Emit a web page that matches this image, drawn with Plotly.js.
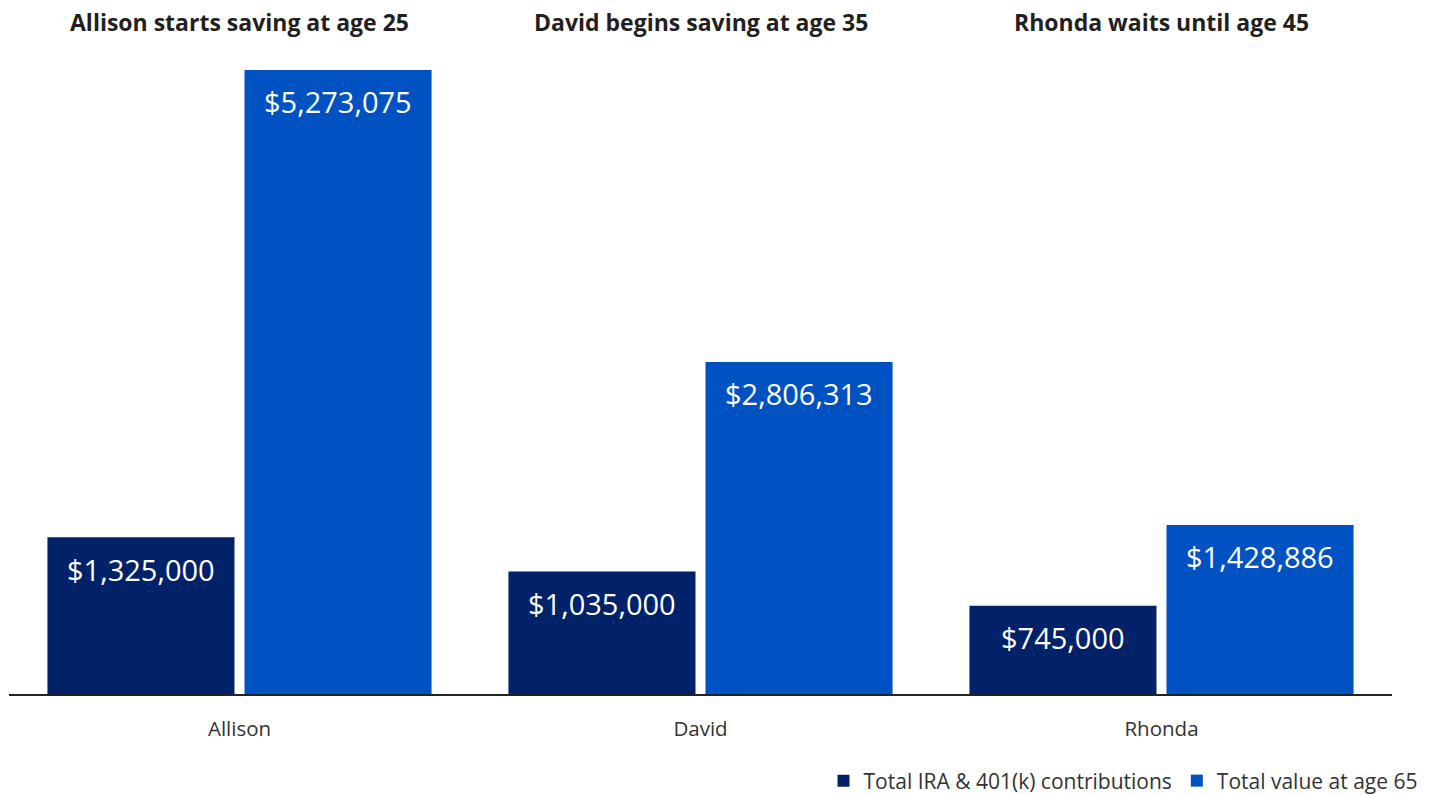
<!DOCTYPE html>
<html>
<head>
<meta charset="utf-8">
<script src="https://cdn.plot.ly/plotly-3.0.1.min.js"></script>
<style>html,body{margin:0;padding:0;background:#fff;}#chart{width:1434px;height:794px;}</style>
</head>
<body>
<div id="chart"></div>
<script>
const categories = ["Allison", "David", "Rhonda"];
const groupTitles = ["Allison starts saving at age 25", "David begins saving at age 35", "Rhonda waits until age 45"];
const seriesNames = ["Total IRA & 401(k) contributions", "Total value at age 65"];
const contributions = [1325000, 1035000, 745000];
const totalValues = [5273075, 2806313, 1428886];
const colors = ["#012169", "#0052C2"];

const fmt = v => "$" + v.toLocaleString("en-US");
const FONT = "Open Sans, sans-serif";

const traces = [contributions, totalValues].map((vals, i) => ({
  type: "bar",
  name: seriesNames[i],
  x: categories,
  y: vals,
  marker: {color: colors[i]},
  hoverinfo: "none"
}));

const offsets = [-0.2137, 0.2137];
const annotations = [];
[contributions, totalValues].forEach((vals, i) => {
  vals.forEach((v, j) => {
    annotations.push({
      x: j + offsets[i], y: v, xref: "x", yref: "y",
      text: fmt(v), showarrow: false,
      yanchor: "middle", yshift: -32,
      font: {family: FONT, size: 29, color: "#ffffff"}
    });
  });
});
groupTitles.forEach((t, j) => {
  annotations.push({
    x: j, y: 1.06, xref: "x", yref: "paper",
    text: "<b>" + t + "</b>", showarrow: false, yanchor: "middle",
    font: {family: FONT, size: 23, color: "#231f20"}
  });
});

const layout = {
  width: 1434, height: 794,
  margin: {l: 9, r: 42, t: 60, b: 100, autoexpand: false},
  paper_bgcolor: "#fff", plot_bgcolor: "#fff",
  barmode: "group", bargap: 0.145, bargroupgap: 0.0508,
  showlegend: true,
  legend: {orientation: "h", xref: "container", yref: "container", x: 0.992, xanchor: "right", y: 0.0164, yanchor: "middle",
           font: {family: FONT, size: 21, color: "#333"}, itemwidth: 30, traceorder: "normal"},
  xaxis: {showline: true, linecolor: "#222", linewidth: 2, ticks: "", ticklabelstandoff: 15,
          tickfont: {family: FONT, size: 20.5, color: "#333"}, showgrid: false, zeroline: false, fixedrange: true},
  yaxis: {range: [0, 5357500], visible: false, showgrid: false, zeroline: false, fixedrange: true},
  annotations: annotations
};

Plotly.newPlot("chart", traces, layout, {displayModeBar: false, staticPlot: true});
</script>
</body>
</html>
